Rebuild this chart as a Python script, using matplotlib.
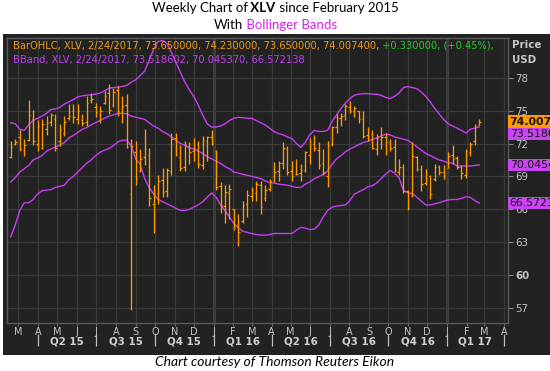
import matplotlib
matplotlib.use("Agg")
import matplotlib.pyplot as plt
import matplotlib.dates as mdates
import matplotlib.transforms as mtransforms
from matplotlib.patches import Rectangle
import pandas as pd

W, H = 550, 371

# weekly OHLC bars of XLV, one per week (dated Friday)
bar_dates = pd.date_range(end="2017-02-24", periods=106, freq="W-FRI")

opens = [70.8, 72.0, 72.6, 71.4, 72.3, 74.2, 72.0, 71.6, 73.3, 74.0,
         74.2, 72.2, 73.0, 74.3, 75.0, 74.2, 74.1, 74.0, 76.0, 75.3,
         74.6, 75.7, 76.6, 75.5, 76.9, 75.2, 75.5, 67.4, 71.2, 69.5,
         70.8, 71.0, 66.5, 67.5, 68.7, 67.7, 69.5, 72.5, 70.8, 69.9,
         71.8, 71.3, 71.4, 70.0, 72.2, 72.6, 71.3, 68.1, 66.3, 67.5,
         66.0, 64.6, 64.9, 66.5, 67.2, 67.5, 68.2, 67.0, 67.9, 69.0,
         69.5, 70.2, 71.5, 69.5, 69.2, 69.3, 69.6, 71.0, 72.0, 71.4,
         70.2, 69.0, 72.0, 73.5, 74.3, 74.6, 75.3, 75.0, 75.0, 74.2,
         72.8, 72.9, 71.5, 72.4, 72.6, 72.1, 71.7, 69.4, 69.9, 67.7,
         67.3, 70.8, 69.7, 68.4, 69.0, 68.8, 69.9, 69.4, 69.8, 71.0,
         70.7, 69.9, 69.1, 71.2, 72.2, 73.65]
highs = [72.2, 72.4, 73.2, 72.4, 76.0, 75.1, 74.1, 74.2, 74.5, 74.8,
         74.7, 73.8, 74.5, 75.6, 75.6, 75.6, 74.7, 76.3, 76.6, 75.7,
         75.4, 76.8, 77.4, 77.1, 77.2, 76.3, 76.5, 72.4, 72.2, 71.5,
         73.3, 71.6, 68.2, 69.1, 69.8, 69.8, 73.0, 73.0, 71.9, 72.2,
         72.1, 72.5, 72.2, 72.7, 72.7, 73.2, 71.4, 68.5, 68.2, 68.3,
         66.0, 65.6, 66.8, 67.8, 68.0, 68.6, 68.6, 68.2, 68.8, 70.3,
         70.4, 72.1, 71.8, 70.4, 70.6, 70.1, 71.3, 72.5, 72.8, 72.1,
         71.5, 72.2, 73.6, 74.7, 74.8, 75.6, 75.9, 75.4, 75.0, 75.0,
         73.5, 73.2, 72.9, 73.5, 73.0, 72.4, 72.4, 70.6, 70.1, 67.8,
         72.1, 70.9, 70.0, 69.7, 69.1, 70.1, 70.0, 70.0, 71.2, 71.9,
         70.9, 70.0, 71.5, 72.1, 73.8, 74.23]
lows = [70.7, 71.9, 71.3, 70.9, 72.2, 71.9, 71.3, 71.5, 72.8, 73.6,
        71.3, 71.8, 72.7, 74.1, 73.9, 73.8, 73.6, 73.6, 75.7, 74.4,
        73.9, 75.6, 74.7, 75.3, 74.5, 73.9, 71.6, 56.8, 68.2, 69.4,
        70.0, 66.3, 63.8, 66.5, 67.1, 67.1, 69.1, 70.9, 69.5, 69.5,
        70.1, 70.4, 69.8, 69.7, 70.4, 71.9, 67.8, 65.7, 64.8, 65.1,
        64.1, 62.7, 64.8, 65.3, 66.8, 66.8, 65.6, 66.8, 67.7, 68.5,
        68.6, 69.7, 69.1, 68.6, 69.1, 68.6, 69.4, 70.1, 71.3, 69.7,
        69.1, 68.0, 71.8, 73.0, 73.6, 74.1, 74.8, 74.4, 73.9, 72.5,
        72.2, 71.5, 71.0, 71.5, 71.0, 71.3, 69.4, 69.1, 67.5, 65.9,
        67.1, 69.5, 67.7, 68.2, 66.9, 68.6, 69.1, 68.8, 69.8, 70.1,
        69.7, 68.8, 68.9, 70.9, 71.9, 73.65]
closes = [71.7, 72.1, 71.5, 71.9, 74.6, 72.2, 73.6, 73.8, 73.9, 74.6,
          71.6, 73.2, 74.0, 74.5, 74.4, 75.0, 73.9, 75.7, 76.1, 74.9,
          75.0, 76.3, 75.1, 76.7, 75.0, 75.4, 71.7, 71.8, 68.8, 70.6,
          71.5, 67.0, 67.3, 68.6, 67.6, 69.6, 72.4, 71.0, 69.8, 71.9,
          71.2, 71.6, 70.1, 72.3, 72.6, 72.0, 68.0, 66.4, 67.6, 67.9,
          64.7, 63.9, 66.4, 67.3, 67.8, 68.3, 66.2, 67.8, 68.6, 69.4,
          70.2, 71.6, 69.4, 69.0, 69.2, 69.6, 71.2, 71.8, 71.6, 70.0,
          69.3, 71.9, 73.5, 74.3, 74.5, 75.4, 75.0, 75.2, 74.2, 72.7,
          72.7, 71.6, 72.5, 72.6, 72.1, 71.6, 69.6, 69.9, 67.7, 66.1,
          70.9, 69.7, 68.3, 68.9, 67.4, 69.9, 69.4, 69.0, 70.9, 70.6,
          69.9, 69.3, 71.3, 72.0, 73.6, 74.007]

# Bollinger bands, one value per bar
bb_upper = [73.9, 73.8, 73.3, 73.2, 73.7, 74.1, 74.3, 74.5, 74.75, 75.1,
            75.15, 75.3, 75.6, 75.8, 76.0, 76.25, 76.35, 76.4, 76.45, 76.5,
            76.6, 76.8, 77.05, 77.1, 77.15, 77.2, 77.3, 77.6, 77.8, 78.2,
            78.6, 79.6, 80.6, 81.3, 81.4, 81.1, 80.3, 79.4, 78.5, 77.6,
            76.9, 76.3, 75.5, 74.6, 73.8, 73.5, 73.5, 73.6, 73.8, 74.1,
            74.3, 74.4, 74.35, 74.3, 74.3, 74.1, 73.9, 73.7, 73.4, 73.1,
            72.9, 72.8, 72.6, 72.45, 72.0, 71.65, 72.1, 72.8, 73.2, 73.1,
            73.1, 73.2, 74.0, 74.6, 75.2, 75.7, 76.1, 76.4, 76.5, 76.55,
            76.55, 76.5, 76.5, 76.4, 76.2, 76.1, 76.3, 76.6, 77.1, 77.2,
            77.1, 77.0, 76.7, 76.3, 75.8, 75.2, 74.7, 74.2, 73.8, 73.6,
            73.4, 73.2, 72.95, 73.3, 73.4, 73.5186]
bb_mid = [68.5, 68.9, 69.4, 69.7, 70.0, 70.5, 70.7, 70.9, 71.3, 71.5,
          71.7, 71.85, 72.1, 72.5, 72.75, 73.0, 73.3, 73.45, 73.7, 73.9,
          74.1, 74.3, 74.5, 74.6, 74.75, 74.75, 74.7, 74.5, 74.4, 74.3,
          74.2, 73.9, 73.6, 73.4, 73.1, 72.9, 72.6, 72.3, 72.0, 71.85,
          71.6, 71.5, 71.3, 71.1, 70.8, 70.6, 70.4, 70.2, 69.9, 69.7,
          69.4, 69.3, 69.2, 69.1, 69.0, 68.9, 68.8, 68.6, 68.45, 68.4,
          68.3, 68.25, 68.2, 68.1, 68.0, 68.0, 68.3, 68.5, 68.8, 68.97,
          69.2, 69.5, 70.1, 70.6, 70.9, 71.25, 71.5, 71.7, 71.9, 72.1,
          72.2, 72.4, 72.5, 72.7, 72.85, 72.8, 72.6, 72.5, 72.4, 72.3,
          72.0, 71.7, 71.4, 71.1, 70.9, 70.7, 70.5, 70.4, 70.25, 70.2,
          69.95, 69.95, 69.95, 69.95, 70.0, 70.0454]
bb_lower = [63.5, 64.6, 65.9, 66.6, 66.6, 66.9, 67.4, 67.7, 67.75, 67.8,
            68.0, 68.1, 68.2, 68.7, 69.0, 69.4, 69.8, 70.2, 70.5, 70.9,
            71.2, 71.4, 71.55, 71.8, 72.15, 72.3, 72.3, 71.8, 70.6, 70.1,
            68.8, 68.0, 67.4, 66.9, 66.7, 66.5, 66.3, 66.1, 65.9, 65.9,
            66.0, 66.2, 66.4, 66.7, 67.1, 67.5, 67.1, 66.4, 65.9, 65.3,
            64.7, 64.3, 64.0, 63.9, 63.8, 63.7, 63.65, 63.65, 63.7, 63.8,
            63.8, 63.8, 63.8, 63.8, 64.1, 64.35, 64.3, 64.15, 64.2, 64.55,
            65.3, 65.9, 66.2, 66.3, 66.35, 66.4, 66.8, 67.4, 67.6, 67.8,
            68.05, 68.15, 68.4, 68.8, 69.2, 69.55, 69.3, 68.9, 67.7, 67.5,
            67.45, 67.1, 66.75, 66.4, 66.4, 66.5, 66.6, 66.75, 66.85, 66.9,
            66.9, 67.0, 67.15, 67.1, 66.8, 66.5721]

month_ticks = pd.date_range("2015-03-01", "2017-04-01", freq="MS")
month_labels = ["M", "A", "M", "J", "J", "A", "S", "O", "N", "D", "J", "F",
                "M", "A", "M", "J", "J", "A", "S", "O", "N", "D", "J", "F",
                "M", "A"]
quarter_starts = pd.to_datetime(["2015-04-01", "2015-07-01", "2015-10-01",
                                 "2016-01-01", "2016-04-01", "2016-07-01",
                                 "2016-10-01", "2017-01-01", "2017-04-01"])
quarter_labels = ["Q2 15", "Q3 15", "Q4 15", "Q1 16", "Q2 16", "Q3 16",
                  "Q4 16", "Q1 17"]
price_ticks = [57, 60, 63, 66, 69, 72, 75, 78]

BG = "#222222"
GRID = "#3a3a3a"
ORANGE = "#ff9a00"
MAGENTA = "#c83cf5"
TICK_TXT = "#c4c4c4"
UI_FONT = ["DejaVu Sans"]
TITLE_FONT = ["Lato", "DejaVu Sans"]

fig = plt.figure(figsize=(W / 100, H / 100), dpi=100, facecolor="white")
fig.patches.append(Rectangle((3 / W, 1 - 355 / H), (W - 3) / W, (355 - 34) / H,
                             transform=fig.transFigure, facecolor=BG,
                             edgecolor="none", zorder=-10))

ax = fig.add_axes([7 / W, 1 - 323 / H, 501 / W, 285 / H])
ax.set_facecolor(BG)
for sp in ax.spines.values():
    sp.set_color("#5a5a5a")
    sp.set_linewidth(1.0)

x = mdates.date2num(bar_dates - pd.Timedelta(days=3))
tick = 2.4

ax.plot(x, bb_upper, color=MAGENTA, lw=1.0, zorder=3)
ax.plot(x, bb_mid, color=MAGENTA, lw=1.0, zorder=3)
ax.plot(x, bb_lower, color=MAGENTA, lw=1.0, zorder=3)

ax.vlines(x, lows, highs, color=ORANGE, lw=0.95, zorder=4)
ax.hlines(opens, x - tick, x, color=ORANGE, lw=0.9, zorder=4)
ax.hlines(closes, x, x + tick, color=ORANGE, lw=0.9, zorder=4)

ax.set_xlim(mdates.date2num(pd.Timestamp("2015-02-11")),
            mdates.date2num(pd.Timestamp("2017-04-07")))
ax.set_ylim(55.64, 81.62)

ax.set_xticks(mdates.date2num(month_ticks))
ax.set_xticklabels(month_labels, fontsize=7, color=TICK_TXT, family=UI_FONT)
ax.tick_params(axis="x", direction="out", length=2.5, width=0.8, color="#6a6a6a", pad=0.5)

ax.yaxis.tick_right()
ax.set_yticks(price_ticks)
ax.set_yticklabels([str(v) for v in price_ticks], fontsize=7.4, color=TICK_TXT, family=UI_FONT)
ax.tick_params(axis="y", direction="out", length=3.5, width=0.8, color="#8a8a8a", pad=1.5)
for lab in ax.get_yticklabels():
    if lab.get_text() == "60":
        lab.set_fontweight("bold")

ax.grid(True, color=GRID, lw=0.9)
ax.set_axisbelow(True)
for d in ["2016-01-01", "2017-01-01"]:
    ax.axvline(mdates.date2num(pd.Timestamp(d)), color="#3f3f3f", lw=2.2, zorder=0.5)

# quarter row under the month letters
qtrans = mtransforms.blended_transform_factory(ax.transData, fig.transFigure)
qx = mdates.date2num(quarter_starts)
ax.vlines(qx, 1 - 346 / H, 1 - 334 / H, transform=qtrans, color="#bdbdbd",
          lw=0.9, clip_on=False)
for i, lab in enumerate(quarter_labels):
    ax.text((qx[i] + qx[i + 1]) / 2, 1 - 341.5 / H, lab, transform=qtrans,
            ha="center", va="center", fontsize=7.4, fontweight="bold",
            color="#d0d0d0", family=UI_FONT)

fig.text(512 / W, 1 - 45 / H, "Price", fontsize=7.4, fontweight="bold",
         color="#c8c8c8", va="center", family=UI_FONT)
fig.text(512 / W, 1 - 60 / H, "USD", fontsize=7.4, fontweight="bold",
         color="#c8c8c8", va="center", family=UI_FONT)

# last-value flags on the price scale
rtrans = mtransforms.blended_transform_factory(ax.transAxes, ax.transData)
flags = [(closes[-1], f"{closes[-1]:.3f}", ORANGE, "bold", 0),
         (bb_upper[-1], f"{bb_upper[-1]:.4f}", "#c846f0", "normal", -5),
         (bb_mid[-1], f"{bb_mid[-1]:.4f}", "#c846f0", "normal", 0),
         (bb_lower[-1], f"{bb_lower[-1]:.4f}", "#c846f0", "normal", 0)]
for val, txt, col, wt, dy in flags:
    ax.annotate(txt, (1.0, val), xycoords=rtrans, xytext=(1.2, dy),
                textcoords="offset points", ha="left", va="center",
                fontsize=7.8, fontweight=wt, color="#111111", family=UI_FONT,
                annotation_clip=False, zorder=6,
                bbox=dict(boxstyle="square,pad=0.12", fc=col, ec="none"))


def put_pieces(x_px, y_px, pieces, center=False, **kw):
    r = fig.canvas.get_renderer()
    texts = [fig.text(0, 0, s, color=c, fontweight=w, va="center", **kw)
             for s, c, w in pieces]
    widths = [t.get_window_extent(renderer=r).width for t in texts]
    xp = x_px - sum(widths) / 2 if center else x_px
    for t, wd in zip(texts, widths):
        t.set_position((xp / W, 1 - y_px / H))
        xp += wd


fig.canvas.draw()
put_pieces(275, 8, [("Weekly Chart of", "black", "normal"),
                    (" XLV", "black", "bold"),
                    (" since February 2015", "black", "normal")],
           center=True, fontsize=9.5, family=TITLE_FONT)
put_pieces(275, 25, [("With", "black", "normal"),
                     (" Bollinger Bands", "#e01ef0", "normal")],
           center=True, fontsize=9.5, family=TITLE_FONT)

put_pieces(13, 46, [("BarOHLC, XLV, 2/24/2017, 73.650000, 74.230000, 73.650000, 74.007400,",
                     "#f09a1a", "normal"),
                    (" +0.330000, (+0.45%),", "#22cc22", "normal")],
           fontsize=7.1, family=UI_FONT)
put_pieces(13, 60, [("BBand, XLV, 2/24/2017, 73.518602, 70.045370, 66.572138",
                     "#c040f0", "normal")],
           fontsize=7.1, family=UI_FONT)

fig.text(0.5, 1 - 362 / H, "Chart courtesy of Thomson Reuters Eikon",
         ha="center", va="center", fontsize=10, style="italic", color="black",
         family=TITLE_FONT)

fig.savefig("out.png", dpi=100, facecolor="white")
